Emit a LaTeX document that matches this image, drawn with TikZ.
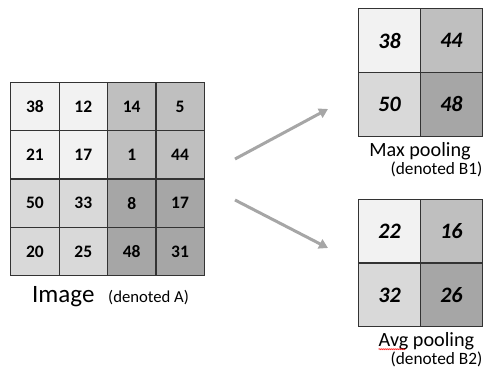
\documentclass[tikz,border=0pt]{standalone}
\usepackage{fontspec}
\setmainfont{Carlito}
\usetikzlibrary{matrix,calc,arrows.meta,decorations.pathmorphing}

\definecolor{cellA}{HTML}{F2F2F2}
\definecolor{cellB}{HTML}{BFBFBF}
\definecolor{cellC}{HTML}{D9D9D9}
\definecolor{cellD}{HTML}{A6A6A6}
\definecolor{arrowgray}{HTML}{A6A6A6}

\tikzset{
  cell/.style={draw=black!80,line width=0.8pt,anchor=center,minimum width=48pt,minimum height=48pt,
    inner sep=0pt,outer sep=0pt,font=\bfseries\fontsize{17.5}{20}\selectfont},
  poolcell/.style={cell,minimum width=61.5pt,minimum height=63.5pt,
    font=\bfseries\itshape\fontsize{22}{26}\selectfont},
  grid/.style={matrix of nodes,inner sep=0pt,column sep=-\pgflinewidth,row sep=-\pgflinewidth,
    ampersand replacement=\&},
  poolarrow/.style={draw=arrowgray,line width=3pt,-{Triangle[length=9pt,width=10pt]}},
}

\begin{document}
\begin{tikzpicture}[x=1pt,y=1pt]
\useasboundingbox (0,0) rectangle (483,370);

% input image A
\matrix (A) [grid,nodes={cell}] at (107.5,191) {
  |[fill=cellA]| 38 \& |[fill=cellA]| 12 \& |[fill=cellB]| 14 \& |[fill=cellB]| 5  \\
  |[fill=cellA]| 21 \& |[fill=cellA]| 17 \& |[fill=cellB]| 1  \& |[fill=cellB]| 44 \\
  |[fill=cellC]| 50 \& |[fill=cellC]| 33 \& |[fill=cellD]| 8  \& |[fill=cellD]| 17 \\
  |[fill=cellC]| 20 \& |[fill=cellC]| 25 \& |[fill=cellD]| 48 \& |[fill=cellD]| 31 \\
};
\node[anchor=base west,font=\fontsize{25}{28}\selectfont,inner sep=0pt] (imglbl) at (32,67.3) {Image};
\node[anchor=base west,font=\fontsize{16.7}{19}\selectfont,inner sep=0pt] (imgsub) at (108,67.5) {(denoted A)};

% max pooling B1
\matrix (B1) [grid,nodes={poolcell}] at (420.5,297.5) {
  |[fill=cellA]| 38 \& |[fill=cellB]| 44 \\
  |[fill=cellC]| 50 \& |[fill=cellD]| 48 \\
};
\node[anchor=base,font=\fontsize{20.2}{23}\selectfont,inner sep=0pt] (maxlbl) at (420,213.3) {Max pooling};
\node[anchor=base,font=\fontsize{17.3}{20}\selectfont,inner sep=0pt] (maxsub) at (436.5,195) {(denoted B1)};

% avg pooling B2
\matrix (B2) [grid,nodes={poolcell}] at (420.5,107) {
  |[fill=cellA]| 22 \& |[fill=cellB]| 16 \\
  |[fill=cellC]| 32 \& |[fill=cellD]| 26 \\
};
\node[anchor=base,font=\fontsize{20.2}{23}\selectfont,inner sep=0pt] (avglbl) at (426.5,23.3) {Avg pooling};
\node[anchor=base,font=\fontsize{17.3}{20}\selectfont,inner sep=0pt] (avgsub) at (436.5,5) {(denoted B2)};
% spell-check squiggle under "Avg"
\draw[red,line width=0.5pt,decorate,decoration={snake,amplitude=0.6pt,segment length=2pt}]
  ($(avglbl.base west)+(0,-2.5)$) -- +(27,0);

% arrows
\coordinate (upfrom) at (235,211);
\coordinate (upto) at (328,261);
\coordinate (downfrom) at (235,170);
\coordinate (downto) at (328,122);
\draw[poolarrow] (upfrom) -- (upto);
\draw[poolarrow] (downfrom) -- (downto);
\end{tikzpicture}
\end{document}
